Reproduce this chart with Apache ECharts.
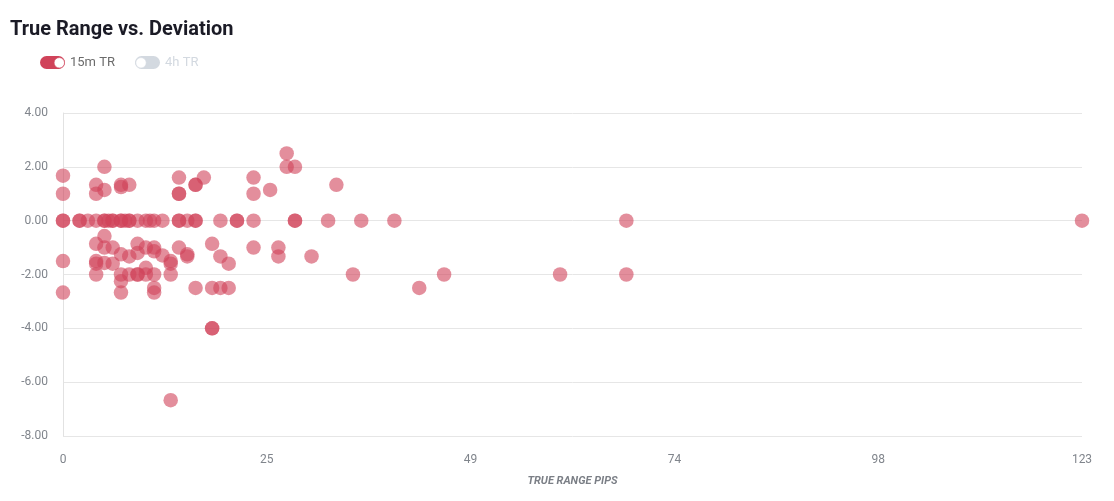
<!DOCTYPE html>
<html>
<head>
<meta charset="utf-8">
<style>
  html, body { margin: 0; padding: 0; background: #ffffff; }
  #chart { width: 1114px; height: 501px; }
</style>
<script src="https://cdn.jsdelivr.net/npm/echarts@6/dist/echarts.min.js"></script>
</head>
<body>
<div id="chart"></div>
<script>
// ---- Data ----
const titleText = 'True Range vs. Deviation';
const seriesNames = ['15m TR', '4h TR'];
const xAxisTitle = 'TRUE RANGE PIPS';

// 15m TR: true range in pips (x) and deviation (y)
const pips15m = [
  // above zero
  0, 0, 4, 4, 5, 5, 7, 7, 8, 14, 14, 14, 16, 16, 17, 23, 23, 25, 27, 27, 28, 33,
  // on zero
  0, 0, 2, 2, 3, 4, 5, 5, 5.5, 6, 6, 7, 7, 7.5, 8, 8, 9, 10, 10.5, 11, 12, 14, 14, 15, 16, 16,
  19, 21, 21, 23, 28, 28, 32, 36, 40, 68, 123,
  // below zero
  0, 0, 4, 4, 4, 4, 5, 5, 5, 6, 6, 7, 7, 7, 7, 8, 8, 9, 9, 9, 9, 10, 10, 10, 11, 11, 11, 11, 11,
  12, 13, 13, 13, 13, 14, 15, 15, 16, 18, 18, 18, 18, 19, 19, 20, 20, 23, 26, 26, 30, 35, 43,
  46, 60, 68
];
const deviation15m = [
  // above zero
  1.67, 1.0, 1.33, 1.0, 2.0, 1.14, 1.33, 1.25, 1.33, 1.6, 1.0, 1.0, 1.33, 1.33, 1.6, 1.6, 1.0, 1.14, 2.5, 2.0, 2.0, 1.33,
  // on zero
  0, 0, 0, 0, 0, 0, 0, 0, 0, 0, 0, 0, 0, 0, 0, 0, 0, 0, 0, 0, 0, 0, 0, 0, 0, 0,
  0, 0, 0, 0, 0, 0, 0, 0, 0, 0, 0,
  // below zero
  -1.5, -2.67, -0.86, -1.5, -1.6, -2.0, -0.57, -1.0, -1.57, -1.0, -1.6, -1.25, -2.0, -2.25, -2.67, -1.33, -2.0, -0.86, -1.2, -2.0, -2.0, -1.0, -1.75, -2.0, -1.0, -1.14, -2.0, -2.5, -2.67,
  -1.29, -1.6, -1.5, -2.0, -6.67, -1.0, -1.25, -1.33, -2.5, -0.86, -2.5, -4.0, -4.0, -1.33, -2.5, -1.6, -2.5, -1.0, -1.0, -1.33, -1.33, -2.0, -2.5,
  -2.0, -2.0, -2.0
];
// 4h TR is switched off in the legend: nothing drawn
const pips4h = [];
const deviation4h = [];

// Axis ranges / ticks
const xMin = 0, xMax = 123, xTickCount = 5;      // ticks 0, 25, 49, 74, 98, 123
const yMin = -8, yMax = 4, yInterval = 2;

// ---- Build ----
const zip = (xs, ys) => xs.map((x, i) => [x, ys[i]]);
const pointColor = '#d0435a';

const chart = echarts.init(document.getElementById('chart'), null, { renderer: 'canvas' });
const pill = 'path://M6.5,0 L18.5,0 A6.5,6.5 0 0 1 18.5,13 L6.5,13 A6.5,6.5 0 0 1 6.5,0 Z';

chart.setOption({
  animation: false,
  backgroundColor: '#ffffff',
  textStyle: { fontFamily: 'Roboto, "Noto Sans", sans-serif' },
  title: {
    text: titleText,
    left: 5,
    top: 15,
    textStyle: { fontFamily: 'Roboto, sans-serif', fontSize: 20, fontWeight: 'bold', color: '#1b1b26' }
  },
  legend: {
    data: seriesNames,
    left: 35,
    top: 51,
    itemWidth: 25,
    itemHeight: 13,
    itemGap: 20,
    icon: pill,
    itemStyle: { opacity: 1 },
    selected: { '15m TR': true, '4h TR': false },
    inactiveColor: '#d3d9e0',
    textStyle: { fontSize: 13, color: '#6b6b6b', fontFamily: 'Roboto, sans-serif' },
    selectedMode: false
  },
  graphic: [
    { type: 'circle', left: 53.8, top: 57.3, shape: { r: 5.2 }, style: { fill: '#ffffff', stroke: '#d0435a', lineWidth: 0.6 }, z: 200 },
    { type: 'circle', left: 135.5, top: 57.3, shape: { r: 5.2 }, style: { fill: '#ffffff', stroke: '#d3d9e0', lineWidth: 0.6 }, z: 200 }
  ],
  grid: { left: 63, right: 32, top: 113, bottom: 65, containLabel: false },
  xAxis: {
    type: 'value',
    min: xMin,
    max: xMax,
    interval: (xMax - xMin) / xTickCount,
    name: xAxisTitle,
    nameLocation: 'middle',
    nameGap: 40,
    nameTextStyle: { fontSize: 11, fontStyle: 'italic', fontWeight: 'bold', color: '#7b7f86', fontFamily: 'Roboto, sans-serif' },
    axisLine: { show: false },
    axisTick: { show: false },
    splitLine: { show: false },
    axisLabel: {
      margin: 18,
      fontSize: 12,
      color: '#80858c',
      formatter: v => String(Math.round(v))
    }
  },
  yAxis: {
    type: 'value',
    min: yMin,
    max: yMax,
    interval: yInterval,
    axisLine: { show: true, lineStyle: { color: '#e2e2e2', width: 1 } },
    axisTick: { show: false },
    splitLine: { show: true, lineStyle: { color: '#e6e6e6', width: 1 } },
    axisLabel: {
      margin: 15,
      fontSize: 12,
      color: '#80858c',
      formatter: v => v.toFixed(2)
    }
  },
  series: [
    {
      name: seriesNames[0],
      type: 'scatter',
      data: zip(pips15m, deviation15m),
      symbolSize: 14.5,
      itemStyle: { color: pointColor, opacity: 0.6 }
    },
    {
      name: seriesNames[1],
      type: 'scatter',
      data: zip(pips4h, deviation4h),
      symbolSize: 14.5,
      itemStyle: { color: '#3b7dd8', opacity: 0.6 }
    }
  ]
});
</script>
</body>
</html>
